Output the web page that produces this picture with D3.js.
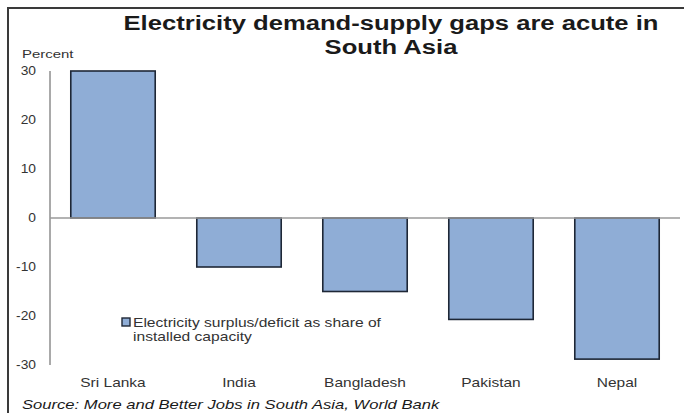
<!DOCTYPE html>
<html>
<head>
<meta charset="utf-8">
<script src="https://cdn.jsdelivr.net/npm/d3@7"></script>
<style>
  html, body { margin: 0; padding: 0; background: #fff; }
  svg { display: block; font-family: Arial, "Liberation Sans", sans-serif; }
</style>
</head>
<body>
<svg id="chart" width="684" height="413"></svg>
<script>
// Electricity surplus/deficit as share of installed capacity, by country
const countries = ["Sri Lanka", "India", "Bangladesh", "Pakistan", "Nepal"];
const gapValues = [30, -10, -15, -20.7, -28.8];
const yTicks = [30, 20, 10, 0, -10, -20, -30];

const svg = d3.select("#chart");
const STRETCH = 1.24; // horizontally widened lettering

// text drawn at (x, y), widened around its anchor point
function label(parent, x, y, lines, opts) {
  const g = parent.append("g").attr("transform", `translate(${x},${y}) scale(${opts.sx || STRETCH},1)`);
  const t = g.append("text")
    .attr("text-anchor", opts.anchor || "start")
    .attr("font-size", opts.size)
    .attr("font-weight", opts.weight || "normal")
    .attr("font-style", opts.style || "normal")
    .attr("fill", opts.fill || "#333");
  lines.forEach((s, i) => t.append("tspan").attr("x", 0).attr("y", i * (opts.lh || 0)).text(s));
  return t;
}

// outer frame
svg.append("rect")
  .attr("x", 8).attr("y", 8)
  .attr("width", 700).attr("height", 420)
  .attr("fill", "none").attr("stroke", "#3a3a3a").attr("stroke-width", 2);

const x = d3.scaleBand().domain(countries).range([50, 680]).paddingInner(0.33).paddingOuter(0.165);
const y = d3.scaleLinear().domain([-30, 30]).range([365, 71]);

// title
label(svg, 391, 30, ["Electricity demand-supply gaps are acute in", "South Asia"],
  { anchor: "middle", size: 21, weight: "bold", fill: "#1a1a1a", lh: 24, sx: 1.22 });

// y axis label
label(svg, 22, 58, ["Percent"], { size: 11.5, sx: 1.3 });

// y tick labels
yTicks.forEach(d => {
  label(svg, 36, y(d) + 4.3, [d], { anchor: "end", size: 12, sx: 1.15 });
});

// y axis line
svg.append("line")
  .attr("x1", 50).attr("x2", 50).attr("y1", y(30)).attr("y2", y(-30))
  .attr("stroke", "#555").attr("stroke-width", 1);

// bars
svg.append("g").selectAll("rect").data(countries).join("rect")
  .attr("x", d => x(d))
  .attr("width", x.bandwidth())
  .attr("y", (d, i) => y(Math.max(0, gapValues[i])))
  .attr("height", (d, i) => Math.abs(y(gapValues[i]) - y(0)))
  .attr("fill", "#8fadd6")
  .attr("stroke", "#1e2736")
  .attr("stroke-width", 1.6);

// zero line
svg.append("line")
  .attr("x1", 50).attr("x2", 680).attr("y1", y(0)).attr("y2", y(0))
  .attr("stroke", "#9a9a9a").attr("stroke-width", 1.5);

// category labels
countries.forEach(c => {
  label(svg, x(c) + x.bandwidth() / 2, 387, [c], { anchor: "middle", size: 12.5, sx: 1.24 });
});

// legend
svg.append("rect").attr("x", 122).attr("y", 318).attr("width", 8).attr("height", 8)
  .attr("fill", "#8fadd6").attr("stroke", "#1e2736").attr("stroke-width", 1.4);
label(svg, 133, 327, ["Electricity surplus/deficit as share of", "installed capacity"],
  { size: 12.5, lh: 14.5, sx: 1.25 });

// source note
label(svg, 22, 409, ["Source: More and Better Jobs in South Asia, World Bank"],
  { size: 13.5, style: "italic", fill: "#1a1a1a", sx: 1.23 });
</script>
</body>
</html>
